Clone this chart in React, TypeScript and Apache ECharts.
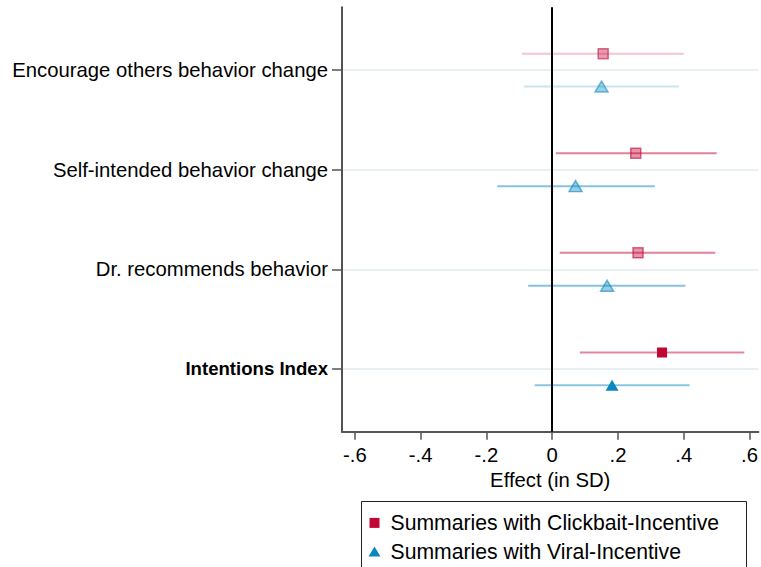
import React, { useEffect, useRef } from "react";
import * as echarts from "echarts";

// Outcomes, listed top to bottom
const categories = [
  "Encourage others behavior change",
  "Self-intended behavior change",
  "Dr. recommends behavior",
  "Intentions Index",
];

// Point estimates and confidence bounds (effect in SD)
const clickbaitEstimate = [0.155, 0.254, 0.261, 0.334];
const clickbaitLower = [-0.092, 0.011, 0.023, 0.084];
const clickbaitUpper = [0.4, 0.5, 0.496, 0.584];

const viralEstimate = [0.15, 0.071, 0.167, 0.182];
const viralLower = [-0.086, -0.167, -0.073, -0.053];
const viralUpper = [0.385, 0.312, 0.405, 0.418];

const xTicks = [-0.6, -0.4, -0.2, 0, 0.2, 0.4, 0.6];
const seriesNames = [
  "Summaries with Clickbait-Incentive",
  "Summaries with Viral-Incentive",
];

// Styling
const CRANBERRY = "#c10534";
const SEA = "#0b87bf";
const FONT = "'Liberation Sans', Arial, Helvetica, sans-serif";
const ROW_OFFSET = 0.165;
// component rows are faded, the index row is drawn at full strength
const markerFillAlpha = [0.4, 0.42, 0.42, 1];
const markerBorderAlpha = [0.55, 0.6, 0.6, 1];
const ciAlpha = [0.22, 0.5, 0.5, 0.48];

function rgba(hex: string, a: number) {
  const n = parseInt(hex.slice(1), 16);
  return `rgba(${(n >> 16) & 255},${(n >> 8) & 255},${n & 255},${a})`;
}

const rowY = (i: number) => categories.length - i;

function tickLabel(v: number) {
  const r = Math.round(v * 10) / 10;
  if (r === 0) return "0";
  const s = Math.abs(r).toFixed(1).replace(/^0/, "");
  return r < 0 ? "-" + s : s;
}

function markerData(est: number[], dy: number, color: string) {
  return est.map((v, i) => ({
    value: [v, rowY(i) + dy],
    itemStyle:
      markerFillAlpha[i] < 1
        ? {
            color: rgba(color, markerFillAlpha[i]),
            borderColor: rgba(color, markerBorderAlpha[i]),
            borderWidth: 1.5,
          }
        : { color, borderWidth: 0 },
  }));
}

function ciData(lo: number[], hi: number[], dy: number) {
  return lo.map((l, i) => [l, hi[i], rowY(i) + dy, ciAlpha[i]]);
}

function ciSeries(lo: number[], hi: number[], dy: number, color: string) {
  return {
    type: "custom",
    silent: true,
    z: 2,
    encode: { x: [0, 1], y: 2 },
    data: ciData(lo, hi, dy),
    renderItem: (_params: any, api: any) => {
      const p1 = api.coord([api.value(0), api.value(2)]);
      const p2 = api.coord([api.value(1), api.value(2)]);
      return {
        type: "line",
        shape: { x1: p1[0], y1: p1[1], x2: p2[0], y2: p2[1] },
        style: { stroke: rgba(color, api.value(3)), lineWidth: 2 },
      };
    },
  };
}

export default function App() {
  const ref = useRef<HTMLDivElement>(null);

  useEffect(() => {
    if (!ref.current) return;
    const chart = echarts.init(ref.current, undefined, { renderer: "svg" });
    const rowTicks = categories.map((_, i) => rowY(i));

    chart.setOption({
      animation: false,
      backgroundColor: "#fff",
      textStyle: { fontFamily: FONT, color: "#000" },
      grid: { left: 342, right: 0, top: 7.3, bottom: 135.3, containLabel: false },
      xAxis: {
        type: "value",
        min: -0.639,
        max: 0.627,
        name: "Effect (in SD)",
        nameLocation: "middle",
        nameGap: 31,
        nameTextStyle: { fontSize: 20.3, color: "#000", fontFamily: FONT },
        axisLine: { show: true, onZero: false, lineStyle: { color: "#555", width: 2 } },
        axisTick: { show: true, length: 8, customValues: xTicks, lineStyle: { color: "#555", width: 1.5 } },
        axisLabel: {
          customValues: xTicks,
          formatter: (v: number) => tickLabel(v),
          fontSize: 20.3,
          color: "#000",
          margin: 13,
        },
        splitLine: { show: false },
      },
      yAxis: {
        type: "value",
        min: 0.37,
        max: 4.63,
        axisLine: { show: true, onZero: false, lineStyle: { color: "#555", width: 2 } },
        axisTick: { show: true, length: 10, customValues: rowTicks, lineStyle: { color: "#555", width: 1.5 } },
        axisLabel: {
          customValues: rowTicks,
          margin: 14,
          formatter: (v: number) => {
            const i = categories.length - Math.round(v);
            const name = categories[i] ?? "";
            return i === categories.length - 1 ? `{b|${name}}` : `{n|${name}}`;
          },
          rich: {
            n: { fontSize: 20.3, color: "#000", fontFamily: FONT },
            b: { fontSize: 18.6, fontWeight: "bold", color: "#000", fontFamily: FONT },
          },
        },
        splitLine: { show: true, lineStyle: { color: "#e9f0f3", width: 2 } },
      },
      legend: {
        orient: "vertical",
        left: 368.5,
        top: 512.4,
        padding: 0,
        itemGap: 7.5,
        itemWidth: 22,
        itemHeight: 10,
        selectedMode: false,
        textStyle: { fontSize: 21.2, color: "#000", fontFamily: FONT },
        data: [
          { name: seriesNames[0], icon: "path://M0,0L10,0L10,10L0,10Z" },
          { name: seriesNames[1], icon: "path://M6,0L12,10L0,10Z" },
        ],
      },
      graphic: [
        {
          type: "rect",
          silent: true,
          shape: { x: 361.5, y: 501.5, width: 385, height: 100 },
          style: { fill: "none", stroke: "#222", lineWidth: 1 },
        },
      ],
      series: [
        ciSeries(clickbaitLower, clickbaitUpper, ROW_OFFSET, CRANBERRY),
        ciSeries(viralLower, viralUpper, -ROW_OFFSET, SEA),
        {
          type: "scatter",
          silent: true,
          data: [],
          z: 6,
          markLine: {
            silent: true,
            symbol: "none",
            label: { show: false },
            lineStyle: { color: "#000", width: 2, type: "solid" },
            data: [{ xAxis: 0 }],
          },
        },
        {
          name: seriesNames[0],
          type: "scatter",
          symbol: "rect",
          symbolSize: 10,
          z: 8,
          itemStyle: { color: CRANBERRY, opacity: 1 },
          data: markerData(clickbaitEstimate, ROW_OFFSET, CRANBERRY),
        },
        {
          name: seriesNames[1],
          type: "scatter",
          symbol: "triangle",
          symbolSize: [13, 11],
          z: 8,
          itemStyle: { color: SEA, opacity: 1 },
          data: markerData(viralEstimate, -ROW_OFFSET, SEA),
        },
      ],
    });

    return () => chart.dispose();
  }, []);

  return (
    <div
      ref={ref}
      style={{ position: "fixed", left: 0, top: 0, width: 761, height: 567 }}
    />
  );
}
